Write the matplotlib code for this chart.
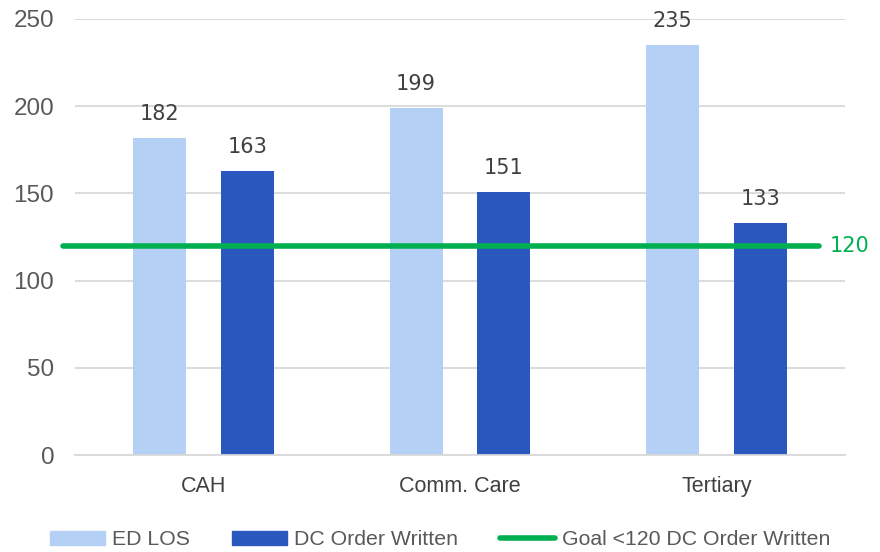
import numpy as np
import matplotlib
matplotlib.use("Agg")
import matplotlib.pyplot as plt
from matplotlib.lines import Line2D
from matplotlib.patches import Patch

categories = ["CAH", "Comm. Care", "Tertiary"]
ed_los = [182, 199, 235]
dc_order = [163, 151, 133]
goal = 120

light = "#B4D0F4"
dark = "#2A58BE"
green = "#00B050"
txt = "#595959"

narrow = ["Liberation Sans Narrow", "Liberation Sans", "DejaVu Sans"]

fig = plt.figure(figsize=(8.8, 5.52), dpi=100)
ax = fig.add_axes([0.0852, 0.1757, 0.875, 0.79])

x = np.arange(len(categories)) + 0.5
w = 0.206
off = 0.171
b1 = ax.bar(x - off, ed_los, w, color=light, zorder=2)
b2 = ax.bar(x + off, dc_order, w, color=dark, zorder=2)

for bars, vals in ((b1, ed_los), (b2, dc_order)):
    for r, v in zip(bars, vals):
        ax.annotate(str(v), (r.get_x() + r.get_width() / 2, v),
                    xytext=(0, 10), textcoords="offset points",
                    ha="center", va="bottom", fontsize=15,
                    color="#404040", family="DejaVu Sans")

ax.plot([-0.045, 2.9], [goal, goal], color=green, lw=4,
        solid_capstyle="round", zorder=3, clip_on=False)
ax.text(2.94, goal, str(goal), color=green, fontsize=15,
        va="center", ha="left", family="DejaVu Sans")

ax.set_xlim(0, 3)
ax.set_ylim(0, 250)
ax.set_yticks(range(0, 251, 50))
ax.set_xticks(x)
ax.set_xticklabels(categories, family=narrow, fontsize=15.5, color="#404040")
for t in ax.get_yticklabels():
    t.set_family("Liberation Sans")
    t.set_fontsize(17.5)
    t.set_color(txt)
ax.tick_params(axis="y", length=0, pad=15)
ax.tick_params(axis="x", length=0, pad=15)
ax.grid(axis="y", color="#D9D9D9", lw=1.3, zorder=0)
for s in ["top", "right", "left"]:
    ax.spines[s].set_visible(False)
ax.spines["bottom"].set_color("#D9D9D9")
ax.spines["bottom"].set_linewidth(1.3)

handles = [Patch(color=light), Patch(color=dark),
           Line2D([], [], color=green, lw=4, solid_capstyle="round")]
labels = ["ED LOS", "DC Order Written", "Goal <120 DC Order Written"]
leg = fig.legend(handles, labels, loc="lower center", ncol=3,
                 bbox_to_anchor=(0.5, -0.03), frameon=False,
                 prop={"family": narrow, "size": 15.3},
                 handlelength=2.6, handleheight=0.7, handletextpad=0.3,
                 columnspacing=2.0)
for t in leg.get_texts():
    t.set_color(txt)

fig.savefig("out.png", dpi=100)
